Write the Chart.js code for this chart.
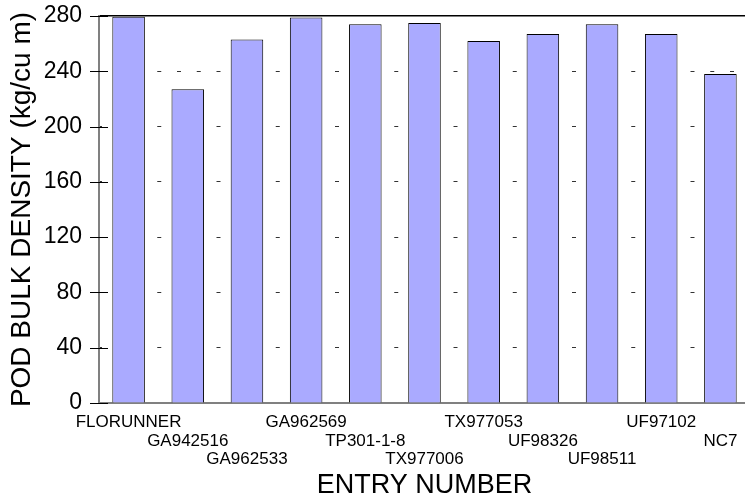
<!DOCTYPE html>
<html>
<head>
<meta charset="utf-8">
<script src="https://cdn.jsdelivr.net/npm/chart.js@4"></script>
<style>
  html, body { margin: 0; padding: 0; background: #fff; overflow: hidden; }
  #wrap { width: 750px; height: 497px; }
</style>
</head>
<body>
<div id="wrap"><canvas id="myChart"></canvas></div>
<script>
const entries = ['FLORUNNER', 'GA942516', 'GA962533', 'GA962569', 'TP301-1-8', 'TX977006',
  'TX977053', 'UF98326', 'UF98511', 'UF97102', 'NC7'];
const density = [279.5, 227, 263, 279, 274, 275, 262, 267, 274, 267, 238];
const yTicks = [0, 40, 80, 120, 160, 200, 240, 280];

// labels are staggered over three rows
const labels = entries.map((name, i) => {
    const rows = ['', '', ''];
    rows[i % 3] = name;
    return rows.slice(0, (i % 3) + 1);
});

const font = 'Liberation Sans, Arial, sans-serif';

const crossTicks = {
    id: 'crossTicks',
    afterDraw(chart) {
        const y = chart.scales.y;
        const c = chart.ctx;
        c.save();
        c.strokeStyle = '#000';
        c.lineWidth = 1;
        yTicks.forEach(v => {
            const py = Math.round(y.getPixelForValue(v)) + 0.5;
            c.beginPath();
            c.moveTo(y.right - 9, py);
            c.lineTo(y.right + 9, py);
            c.stroke();
        });
        c.restore();
    }
};

const ctx = document.getElementById('myChart');

new Chart(ctx, {
    type: 'bar',
    data: {
        labels: labels,
        datasets: [{
            data: density,
            backgroundColor: '#aaaaff',
            borderColor: '#000',
            borderWidth: 1,
            categoryPercentage: 1,
            barPercentage: 0.55
        }]
    },
    options: {
        responsive: true,
        maintainAspectRatio: false,
        animation: false,
        layout: { padding: { top: 16, right: 0, left: 0, bottom: 0 } },
        plugins: { legend: { display: false }, tooltip: { enabled: false } },
        scales: {
            x: {
                grid: { display: false, drawTicks: false },
                border: { display: true, color: '#808080', width: 2 },
                ticks: {
                    color: '#000',
                    padding: 10,
                    maxRotation: 0,
                    autoSkip: false,
                    font: { family: font, size: 17, lineHeight: 1.1 }
                },
                title: {
                    display: true,
                    text: 'ENTRY NUMBER',
                    color: '#000',
                    padding: { top: 0, bottom: -2 },
                    font: { family: font, size: 27, lineHeight: 1 }
                },
                afterFit(scale) {
                    scale.height = 94;
                    scale.paddingLeft = 0;
                    scale.paddingRight = 0;
                }
            },
            y: {
                min: 0,
                max: 280,
                afterBuildTicks(scale) { scale.ticks = yTicks.map(v => ({ value: v })); },
                grid: {
                    drawTicks: false,
                    color: c => c.tick && c.tick.value === 280 ? '#000' : (c.tick && c.tick.value === 0 ? 'rgba(0,0,0,0)' : '#333'),
                    lineWidth: c => c.tick && c.tick.value === 280 ? 1.5 : 1
                },
                border: {
                    display: true,
                    color: '#808080',
                    width: 2,
                    dash: c => c.tick && c.tick.value === 280 ? [] : [4, 15.75],
                    dashOffset: 2
                },
                ticks: {
                    color: '#000',
                    padding: 17,
                    font: { family: font, size: 23 }
                },
                title: {
                    display: true,
                    text: 'POD BULK DENSITY (kg/cu m)',
                    color: '#000',
                    padding: { top: 8, bottom: 0 },
                    font: { family: font, size: 28, lineHeight: 1 }
                },
                afterFit(scale) {
                    scale.width = 99;
                    scale.paddingTop = 0;
                    scale.paddingBottom = 0;
                }
            }
        }
    },
    plugins: [crossTicks]
});
</script>
</body>
</html>
